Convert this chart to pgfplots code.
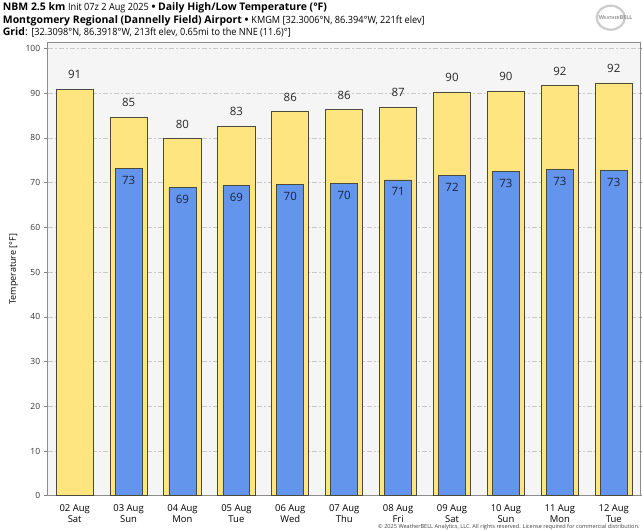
\documentclass[border=0pt]{standalone}
\usepackage{fontspec}
\setmainfont{Open Sans}
\usepackage{graphicx}
\usepackage{pgfplots}
\pgfplotsset{compat=1.18}

\definecolor{hiyel}{HTML}{FFE57F}
\definecolor{loblue}{HTML}{6495ED}
\definecolor{baredge}{HTML}{4A4A3C}
\definecolor{lbltxt}{HTML}{1A2238}
\definecolor{plotbg}{HTML}{F5F5F5}
\definecolor{gridc}{HTML}{C8C8C8}

% narrow text as in the source chart
\newcommand{\narrow}[1]{\scalebox{0.92}[1]{#1}}

\begin{document}
\begin{tikzpicture}
\path[use as bounding box] (-47.7bp,-34.3bp) rectangle (594.3bp,495.7bp);
\begin{axis}[
    at={(0,0)}, anchor=south west,
    scale only axis,
    width=593bp, height=453bp,
    xmin=-0.5, xmax=10.5,
    ymin=0, ymax=101.3,
    xtick={0,...,10},
    xticklabels={{02 Aug\\Sat},{03 Aug\\Sun},{04 Aug\\Mon},{05 Aug\\Tue},{06 Aug\\Wed},{07 Aug\\Thu},{08 Aug\\Fri},{09 Aug\\Sat},{10 Aug\\Sun},{11 Aug\\Mon},{12 Aug\\Tue}},
    x tick label style={align=center, font=\fontsize{9.5}{11.5}\selectfont, yshift=-1bp},
    ytick={0,10,...,100},
    y tick label style={font=\fontsize{8.5}{10}\selectfont, text=black!80},
    /pgf/number format/assume math mode=true,
    tick align=outside,
    xtick style={draw=none},
    ytick style={draw=gray, line width=0.6bp},
    major tick length=4bp,
    axis line style={draw=gray!90, line width=1.3bp},
    axis background/.style={fill=plotbg},
    ymajorgrids,
    grid style={draw=gridc, line width=0.6bp, dash pattern=on 5bp off 2bp on 2bp off 2bp},
    ylabel={Temperature [\textdegree F]},
    ylabel style={font=\fontsize{9}{10}\selectfont, at={(axis description cs:0,0.5)}, anchor=center, yshift=34bp},
    ybar, bar shift=0pt,
    point meta=y,
    clip=false,
]
\addplot[draw=baredge, fill=hiyel, line width=0.8bp, bar width=0.69,
    nodes near coords={\pgfmathprintnumber[fixed,precision=0]{\pgfplotspointmeta}},
    every node near coord/.append style={anchor=base, yshift=10.5bp, inner sep=0pt, font=\fontsize{11.5}{13}\selectfont, text=black!85}]
    coordinates {(0,90.9) (1,84.6) (2,79.8) (3,82.6) (4,85.9) (5,86.3) (6,86.9) (7,90.2) (8,90.4) (9,91.7) (10,92.3)};
\addplot[draw=baredge, fill=loblue, line width=0.8bp, bar width=0.5,
    nodes near coords={\pgfmathprintnumber[fixed,precision=0]{\pgfplotspointmeta}},
    every node near coord/.append style={anchor=base, yshift=-16bp, inner sep=0pt, font=\fontsize{11.5}{13}\selectfont, text=lbltxt}]
    coordinates {(1,73.1) (2,68.9) (3,69.4) (4,69.6) (5,69.9) (6,70.6) (7,71.7) (8,72.6) (9,73.0) (10,72.7)};
\end{axis}
% titles
\node[anchor=base west, inner sep=0pt, font=\fontsize{10.5}{12}\selectfont] at (-45bp,485bp)
  {\textbf{NBM 2.5 km} {\fontsize{10}{12}\selectfont\narrow{Init 07z 2 Aug 2025}} \textbf{• Daily High/Low Temperature (\textdegree F)}};
\node[anchor=base west, inner sep=0pt, font=\fontsize{10.5}{12}\selectfont] at (-45bp,472.5bp)
  {\textbf{Montgomery Regional (Dannelly Field) Airport •} {\fontsize{10}{12}\selectfont\narrow{KMGM [32.3006\textdegree N, 86.394\textdegree W, 221ft elev]}}};
\node[anchor=base west, inner sep=0pt, font=\fontsize{10.5}{12}\selectfont] at (-45bp,460.2bp)
  {\textbf{Grid}: {\fontsize{10}{12}\selectfont\narrow{[32.3098\textdegree N, 86.3918\textdegree W, 213ft elev, 0.65mi to the NNE (11.6)\textdegree]}}};
% logo
\draw[gray!40, line width=2.2bp] (563bp,478bp) ellipse (14bp and 12bp);
\node[anchor=west, inner sep=0pt, font=\fontsize{5.5}{6}\selectfont\bfseries, text=gray!85] at (551bp,478bp) {W\scalebox{0.75}{EATHER}BELL};
% copyright
\node[anchor=base east, inner sep=0pt, font=\fontsize{5.6}{6}\selectfont, text=black!75] at (592bp,-33bp)
  {\textcopyright{} 2025 WeatherBELL Analytics, LLC. All rights reserved. License required for commercial distribution.};
\end{tikzpicture}
\end{document}
